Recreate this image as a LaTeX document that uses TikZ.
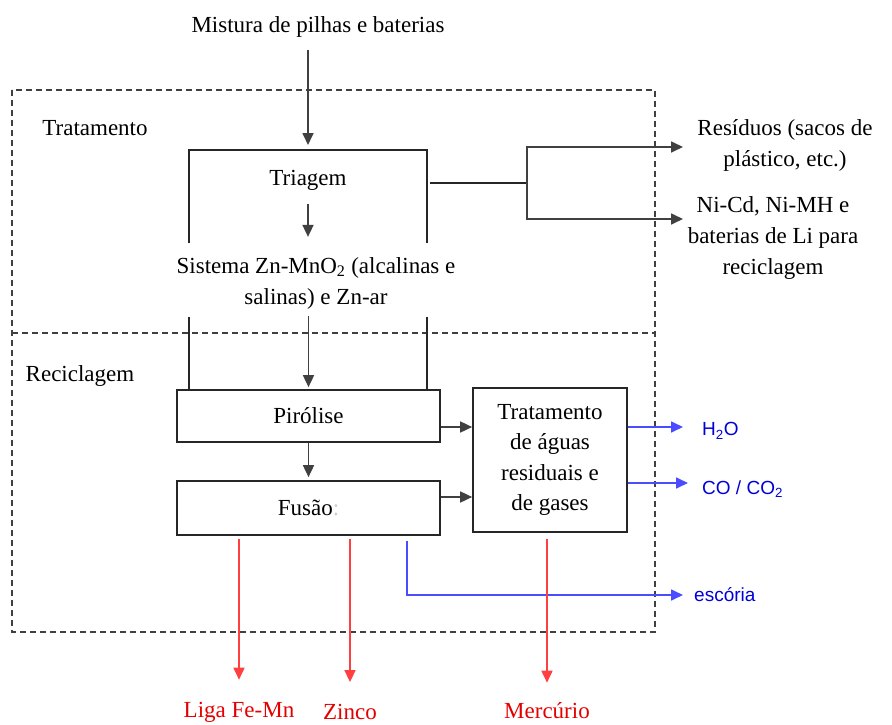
\documentclass[tikz,border=0pt]{standalone}
\usepackage{fontspec}
\setmainfont{Liberation Serif}
\newfontfamily\arial{Liberation Sans}
\usetikzlibrary{arrows.meta}

\begin{document}
\begin{tikzpicture}[
    x=1pt, y=-1pt,
    caixa/.style={draw, line width=1.7pt, black!85, text=black, inner sep=0pt},
    rotulo/.style={inner sep=2pt, align=center},
    saida/.style={blue!85!black, font=\arial\fontsize{19}{24}\selectfont, anchor=west, inner sep=2pt},
    linha/.style={line width=1.7pt, black!85},
    fluxo/.style={line width=1.7pt, black!75, ->},
    azul/.style={line width=1.7pt, blue!70!white, ->},
    verm/.style={line width=1.7pt, red!75!white, ->},
    limite/.style={line width=1.3pt, black!75, dash pattern=on 6pt off 4pt},
    >={Triangle[length=12pt, width=11pt]},
    font=\fontsize{23}{31}\selectfont
]
    \useasboundingbox (0,0) rectangle (892,725);

    % regioes tracejadas
    \draw[limite] (12,90) rectangle (655,632);
    \draw[limite] (12,333) -- (655,333);
    \node[rotulo] (lblTrat) at (95,128) {Tratamento};
    \node[rotulo] (lblRecic) at (80,376) {Reciclagem};

    % entrada e triagem
    \node[rotulo] (mistura) at (318,27) {Mistura de pilhas e baterias};
    \node[rotulo] (triagem) at (308,180) {Triagem};
    \node[rotulo] (sistema) at (316,283) {Sistema Zn-MnO\textsubscript{2} (alcalinas e\\salinas) e Zn-ar};

    % caixas da reciclagem
    \node[caixa, minimum width=263pt, minimum height=52pt] (pirolise) at (308.5,416) {Pirólise};
    \node[caixa, minimum width=263pt, minimum height=54pt] (fusao) at (308.5,508) {Fusão\textcolor{black!20}{:}};
    \node[caixa, minimum width=154pt, minimum height=144pt, align=center, font=\fontsize{23}{30.5}\selectfont] (tratamento) at (550,460) {Tratamento\\de águas\\residuais e\\de gases};

    % saidas da triagem
    \node[rotulo] (residuos) at (785,145) {Resíduos (sacos de\\plástico, etc.)};
    \node[rotulo] (nicd) at (773,238) {Ni-Cd, Ni-MH e\\baterias de Li para\\reciclagem};

    % produtos
    \node[saida] (agua) at (700,431) {H\textsubscript{2}O};
    \node[saida] (gases) at (700,489) {CO / CO\textsubscript{2}};
    \node[saida] (escoria) at (692,595) {escória};
    \node[rotulo, red!90!black] (liga) at (239,712) {Liga Fe-Mn};
    \node[rotulo, red!90!black] (zinco) at (350,712) {Zinco};
    \node[rotulo, red!90!black] (mercurio) at (547,711) {Mercúrio};

    % moldura em volta da triagem
    \coordinate (cantoE) at (189,150);
    \coordinate (cantoD) at (427,150);
    \draw[linha] (189,243) -- (cantoE) -- (cantoD) -- (427,243);
    \draw[linha] (189,317) -- (pirolise.north -| cantoE);
    \draw[linha] (427,317) -- (pirolise.north -| cantoD);

    % fluxo principal
    \draw[fluxo, shorten <=10pt, shorten >=5pt] (mistura.south -| triagem) -- (triagem |- cantoE);
    \draw[fluxo, shorten <=12pt, shorten >=18pt] (triagem.south) -- (triagem.south |- sistema.north);
    \draw[fluxo, shorten <=5pt, shorten >=2pt] (sistema.south -| pirolise.north) -- (pirolise.north);
    \draw[fluxo, shorten >=3pt] (pirolise) -- (fusao);
    \draw[fluxo] ([yshift=-11pt]pirolise.east) -- ([yshift=-11pt]pirolise.east -| tratamento.west);
    \draw[fluxo] ([yshift=11pt]fusao.east) -- ([yshift=11pt]fusao.east -| tratamento.west);

    % ramificacao da triagem
    \coordinate (ramo) at (527,183);
    \coordinate (sup) at (683,147);
    \coordinate (inf) at (683,219);
    \draw[linha] (430,183) -- (ramo);
    \draw[fluxo] (ramo) |- (sup);
    \draw[fluxo] (ramo) |- (inf);

    % saidas azuis
    \draw[azul, shorten >=17pt] ([yshift=33pt]tratamento.east) -- ([yshift=33pt]tratamento.east -| agua.west);
    \draw[azul, shorten >=12pt] ([yshift=-23pt]tratamento.east) -- ([yshift=-23pt]tratamento.east -| gases.west);
    \draw[azul, shorten >=9pt] ([shift={(98.5pt,-5pt)}]fusao.south) |- (escoria.west);

    % saidas vermelhas
    \draw[verm, shorten <=3pt, shorten >=20pt] (fusao.south -| liga) -- (liga.north);
    \draw[verm, shorten <=3pt, shorten >=20pt] (fusao.south -| zinco) -- (zinco.north);
    \draw[verm, shorten <=6pt, shorten >=18pt] (tratamento.south -| mercurio) -- (mercurio.north);

\end{tikzpicture}
\end{document}
